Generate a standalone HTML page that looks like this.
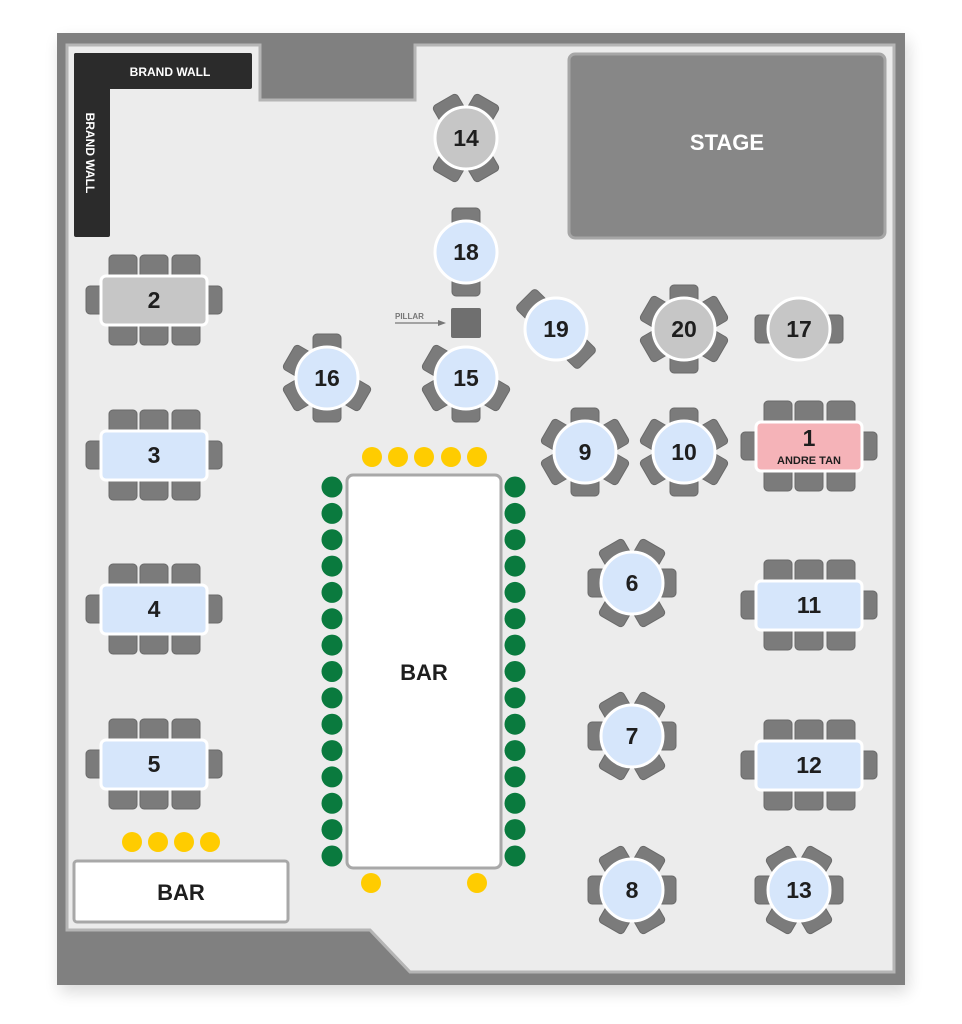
<!DOCTYPE html>
<html><head><meta charset="utf-8"><style>
html,body{margin:0;padding:0;background:#fff;}
svg{display:block;}
text{font-family:"Liberation Sans",Arial,sans-serif;font-weight:bold;}
</style></head><body>
<svg width="962" height="1024" viewBox="0 0 962 1024" xmlns="http://www.w3.org/2000/svg">
<defs>
<filter id="sh" x="-10%" y="-10%" width="120%" height="120%"><feGaussianBlur stdDeviation="8"/></filter>
<g id="c"><rect x="-14" y="-44" width="28" height="18" rx="4" fill="#7b7b7b" stroke="#6a6a6a" stroke-width="1"/></g>
</defs>
<rect x="60" y="40" width="848" height="952" fill="#000" opacity="0.15" filter="url(#sh)"/>
<rect x="57" y="33" width="848" height="952" fill="#808080"/>
<polygon points="67,45 260,45 260,100 415,100 415,45 894,45 894,972 410,972 370,930 67,930" fill="#ececec" stroke="#b5b5b5" stroke-width="3"/>
<rect x="74" y="53" width="178" height="36" rx="2" fill="#2b2b2b"/>
<rect x="74" y="53" width="36" height="184" rx="2" fill="#2b2b2b"/>
<text x="170" y="76" font-size="12" fill="#fff" text-anchor="middle">BRAND WALL</text>
<text transform="translate(86,153) rotate(90)" font-size="12" fill="#fff" text-anchor="middle">BRAND WALL</text>
<rect x="569" y="54" width="316" height="184" rx="6" fill="#878787" stroke="#a6a6a6" stroke-width="3"/>
<text x="727" y="150" font-size="22" fill="#fff" text-anchor="middle">STAGE</text>
<rect x="451" y="308" width="30" height="30" rx="2" fill="#6f6f6f"/>
<text x="395" y="319" font-size="8" fill="#777" font-weight="bold">PILLAR</text>
<line x1="395" y1="323" x2="440" y2="323" stroke="#777" stroke-width="1.2"/>
<polygon points="446,323 438,320 438,326" fill="#777"/>

<g fill="#7b7b7b" stroke="#6a6a6a" stroke-width="1">
<g transform="translate(154,300)"><rect x="-45" y="-45" width="28" height="24" rx="4"/><rect x="-14" y="-45" width="28" height="24" rx="4"/><rect x="18" y="-45" width="28" height="24" rx="4"/><rect x="-45" y="21" width="28" height="24" rx="4"/><rect x="-14" y="21" width="28" height="24" rx="4"/><rect x="18" y="21" width="28" height="24" rx="4"/><rect x="-68" y="-14" width="18" height="28" rx="4"/><rect x="50" y="-14" width="18" height="28" rx="4"/></g>
<g transform="translate(154,455)"><rect x="-45" y="-45" width="28" height="24" rx="4"/><rect x="-14" y="-45" width="28" height="24" rx="4"/><rect x="18" y="-45" width="28" height="24" rx="4"/><rect x="-45" y="21" width="28" height="24" rx="4"/><rect x="-14" y="21" width="28" height="24" rx="4"/><rect x="18" y="21" width="28" height="24" rx="4"/><rect x="-68" y="-14" width="18" height="28" rx="4"/><rect x="50" y="-14" width="18" height="28" rx="4"/></g>
<g transform="translate(154,609)"><rect x="-45" y="-45" width="28" height="24" rx="4"/><rect x="-14" y="-45" width="28" height="24" rx="4"/><rect x="18" y="-45" width="28" height="24" rx="4"/><rect x="-45" y="21" width="28" height="24" rx="4"/><rect x="-14" y="21" width="28" height="24" rx="4"/><rect x="18" y="21" width="28" height="24" rx="4"/><rect x="-68" y="-14" width="18" height="28" rx="4"/><rect x="50" y="-14" width="18" height="28" rx="4"/></g>
<g transform="translate(154,764)"><rect x="-45" y="-45" width="28" height="24" rx="4"/><rect x="-14" y="-45" width="28" height="24" rx="4"/><rect x="18" y="-45" width="28" height="24" rx="4"/><rect x="-45" y="21" width="28" height="24" rx="4"/><rect x="-14" y="21" width="28" height="24" rx="4"/><rect x="18" y="21" width="28" height="24" rx="4"/><rect x="-68" y="-14" width="18" height="28" rx="4"/><rect x="50" y="-14" width="18" height="28" rx="4"/></g>
<g transform="translate(809,446)"><rect x="-45" y="-45" width="28" height="24" rx="4"/><rect x="-14" y="-45" width="28" height="24" rx="4"/><rect x="18" y="-45" width="28" height="24" rx="4"/><rect x="-45" y="21" width="28" height="24" rx="4"/><rect x="-14" y="21" width="28" height="24" rx="4"/><rect x="18" y="21" width="28" height="24" rx="4"/><rect x="-68" y="-14" width="18" height="28" rx="4"/><rect x="50" y="-14" width="18" height="28" rx="4"/></g>
<g transform="translate(809,605)"><rect x="-45" y="-45" width="28" height="24" rx="4"/><rect x="-14" y="-45" width="28" height="24" rx="4"/><rect x="18" y="-45" width="28" height="24" rx="4"/><rect x="-45" y="21" width="28" height="24" rx="4"/><rect x="-14" y="21" width="28" height="24" rx="4"/><rect x="18" y="21" width="28" height="24" rx="4"/><rect x="-68" y="-14" width="18" height="28" rx="4"/><rect x="50" y="-14" width="18" height="28" rx="4"/></g>
<g transform="translate(809,765)"><rect x="-45" y="-45" width="28" height="24" rx="4"/><rect x="-14" y="-45" width="28" height="24" rx="4"/><rect x="18" y="-45" width="28" height="24" rx="4"/><rect x="-45" y="21" width="28" height="24" rx="4"/><rect x="-14" y="21" width="28" height="24" rx="4"/><rect x="18" y="21" width="28" height="24" rx="4"/><rect x="-68" y="-14" width="18" height="28" rx="4"/><rect x="50" y="-14" width="18" height="28" rx="4"/></g>
</g>
<g stroke="#fff" stroke-width="3">
<rect x="101" y="276" width="106" height="49" rx="5" fill="#c6c6c6"/>
<rect x="101" y="431" width="106" height="49" rx="5" fill="#d6e6fb"/>
<rect x="101" y="585" width="106" height="49" rx="5" fill="#d6e6fb"/>
<rect x="101" y="740" width="106" height="49" rx="5" fill="#d6e6fb"/>
<rect x="756" y="422" width="106" height="49" rx="5" fill="#f5b3b8"/>
<rect x="756" y="581" width="106" height="49" rx="5" fill="#d6e6fb"/>
<rect x="756" y="741" width="106" height="49" rx="5" fill="#d6e6fb"/>
</g>
<g font-size="23" fill="#1e1e1e" text-anchor="middle">
<text x="154" y="308">2</text><text x="154" y="463">3</text><text x="154" y="617">4</text><text x="154" y="772">5</text>
<text x="809" y="446">1</text><text x="809" y="613">11</text><text x="809" y="773">12</text>
</g>
<text x="809" y="464" font-size="11" fill="#1e1e1e" text-anchor="middle">ANDRE TAN</text>

<g transform="translate(466,138)"><use href="#c" transform="rotate(-30)"/><use href="#c" transform="rotate(30)"/><use href="#c" transform="rotate(150)"/><use href="#c" transform="rotate(210)"/><circle r="31" fill="#c6c6c6" stroke="#fff" stroke-width="3"/><text y="8" font-size="23" text-anchor="middle" fill="#1e1e1e">14</text></g>
<g transform="translate(466,252)"><use href="#c"/><use href="#c" transform="rotate(180)"/><circle r="31" fill="#d6e6fb" stroke="#fff" stroke-width="3"/><text y="8" font-size="23" text-anchor="middle" fill="#1e1e1e">18</text></g>
<g transform="translate(327,378)"><use href="#c"/><use href="#c" transform="rotate(-60)"/><use href="#c" transform="rotate(240)"/><use href="#c" transform="rotate(120)"/><use href="#c" transform="rotate(180)"/><circle r="31" fill="#d6e6fb" stroke="#fff" stroke-width="3"/><text y="8" font-size="23" text-anchor="middle" fill="#1e1e1e">16</text></g>
<g transform="translate(466,378)"><use href="#c" transform="rotate(-60)"/><use href="#c" transform="rotate(240)"/><use href="#c" transform="rotate(120)"/><use href="#c" transform="rotate(180)"/><circle r="31" fill="#d6e6fb" stroke="#fff" stroke-width="3"/><text y="8" font-size="23" text-anchor="middle" fill="#1e1e1e">15</text></g>
<g transform="translate(556,329)"><use href="#c" transform="rotate(-45)"/><use href="#c" transform="rotate(135)"/><circle r="31" fill="#d6e6fb" stroke="#fff" stroke-width="3"/><text y="8" font-size="23" text-anchor="middle" fill="#1e1e1e">19</text></g>
<g transform="translate(684,329)"><use href="#c"/><use href="#c" transform="rotate(60)"/><use href="#c" transform="rotate(120)"/><use href="#c" transform="rotate(180)"/><use href="#c" transform="rotate(240)"/><use href="#c" transform="rotate(300)"/><circle r="31" fill="#c6c6c6" stroke="#fff" stroke-width="3"/><text y="8" font-size="23" text-anchor="middle" fill="#1e1e1e">20</text></g>
<g transform="translate(799,329)"><use href="#c" transform="rotate(90)"/><use href="#c" transform="rotate(270)"/><circle r="31" fill="#c6c6c6" stroke="#fff" stroke-width="3"/><text y="8" font-size="23" text-anchor="middle" fill="#1e1e1e">17</text></g>
<g transform="translate(585,452)"><use href="#c"/><use href="#c" transform="rotate(60)"/><use href="#c" transform="rotate(120)"/><use href="#c" transform="rotate(180)"/><use href="#c" transform="rotate(240)"/><use href="#c" transform="rotate(300)"/><circle r="31" fill="#d6e6fb" stroke="#fff" stroke-width="3"/><text y="8" font-size="23" text-anchor="middle" fill="#1e1e1e">9</text></g>
<g transform="translate(684,452)"><use href="#c"/><use href="#c" transform="rotate(60)"/><use href="#c" transform="rotate(120)"/><use href="#c" transform="rotate(180)"/><use href="#c" transform="rotate(240)"/><use href="#c" transform="rotate(300)"/><circle r="31" fill="#d6e6fb" stroke="#fff" stroke-width="3"/><text y="8" font-size="23" text-anchor="middle" fill="#1e1e1e">10</text></g>
<g transform="translate(632,583)"><use href="#c" transform="rotate(-30)"/><use href="#c" transform="rotate(30)"/><use href="#c" transform="rotate(90)"/><use href="#c" transform="rotate(150)"/><use href="#c" transform="rotate(210)"/><use href="#c" transform="rotate(270)"/><circle r="31" fill="#d6e6fb" stroke="#fff" stroke-width="3"/><text y="8" font-size="23" text-anchor="middle" fill="#1e1e1e">6</text></g>
<g transform="translate(632,736)"><use href="#c" transform="rotate(-30)"/><use href="#c" transform="rotate(30)"/><use href="#c" transform="rotate(90)"/><use href="#c" transform="rotate(150)"/><use href="#c" transform="rotate(210)"/><use href="#c" transform="rotate(270)"/><circle r="31" fill="#d6e6fb" stroke="#fff" stroke-width="3"/><text y="8" font-size="23" text-anchor="middle" fill="#1e1e1e">7</text></g>
<g transform="translate(632,890)"><use href="#c" transform="rotate(-30)"/><use href="#c" transform="rotate(30)"/><use href="#c" transform="rotate(90)"/><use href="#c" transform="rotate(150)"/><use href="#c" transform="rotate(210)"/><use href="#c" transform="rotate(270)"/><circle r="31" fill="#d6e6fb" stroke="#fff" stroke-width="3"/><text y="8" font-size="23" text-anchor="middle" fill="#1e1e1e">8</text></g>
<g transform="translate(799,890)"><use href="#c" transform="rotate(-30)"/><use href="#c" transform="rotate(30)"/><use href="#c" transform="rotate(90)"/><use href="#c" transform="rotate(150)"/><use href="#c" transform="rotate(210)"/><use href="#c" transform="rotate(270)"/><circle r="31" fill="#d6e6fb" stroke="#fff" stroke-width="3"/><text y="8" font-size="23" text-anchor="middle" fill="#1e1e1e">13</text></g>

<rect x="347" y="475" width="154" height="393" rx="6" fill="#fff" stroke="#a8a8a8" stroke-width="3"/>
<text x="424" y="680" font-size="22" fill="#1e1e1e" text-anchor="middle">BAR</text>
<g fill="#ffcc00">
<circle cx="372" cy="457" r="10"/><circle cx="398" cy="457" r="10"/><circle cx="424" cy="457" r="10"/><circle cx="451" cy="457" r="10"/><circle cx="477" cy="457" r="10"/>
<circle cx="371" cy="883" r="10"/><circle cx="477" cy="883" r="10"/>
<circle cx="132" cy="842" r="10"/><circle cx="158" cy="842" r="10"/><circle cx="184" cy="842" r="10"/><circle cx="210" cy="842" r="10"/>
</g>
<g fill="#0a7a3e">
<circle cx="332" cy="487" r="10.5"/><circle cx="332" cy="513.4" r="10.5"/><circle cx="332" cy="539.7" r="10.5"/><circle cx="332" cy="566.1" r="10.5"/><circle cx="332" cy="592.4" r="10.5"/><circle cx="332" cy="618.8" r="10.5"/><circle cx="332" cy="645.1" r="10.5"/><circle cx="332" cy="671.5" r="10.5"/><circle cx="332" cy="697.9" r="10.5"/><circle cx="332" cy="724.2" r="10.5"/><circle cx="332" cy="750.6" r="10.5"/><circle cx="332" cy="776.9" r="10.5"/><circle cx="332" cy="803.3" r="10.5"/><circle cx="332" cy="829.6" r="10.5"/><circle cx="332" cy="856" r="10.5"/>
<circle cx="515" cy="487" r="10.5"/><circle cx="515" cy="513.4" r="10.5"/><circle cx="515" cy="539.7" r="10.5"/><circle cx="515" cy="566.1" r="10.5"/><circle cx="515" cy="592.4" r="10.5"/><circle cx="515" cy="618.8" r="10.5"/><circle cx="515" cy="645.1" r="10.5"/><circle cx="515" cy="671.5" r="10.5"/><circle cx="515" cy="697.9" r="10.5"/><circle cx="515" cy="724.2" r="10.5"/><circle cx="515" cy="750.6" r="10.5"/><circle cx="515" cy="776.9" r="10.5"/><circle cx="515" cy="803.3" r="10.5"/><circle cx="515" cy="829.6" r="10.5"/><circle cx="515" cy="856" r="10.5"/>
</g>
<rect x="74" y="861" width="214" height="61" rx="3" fill="#fff" stroke="#a8a8a8" stroke-width="3"/>
<text x="181" y="900" font-size="22" fill="#1e1e1e" text-anchor="middle">BAR</text>
</svg>
</body></html>
